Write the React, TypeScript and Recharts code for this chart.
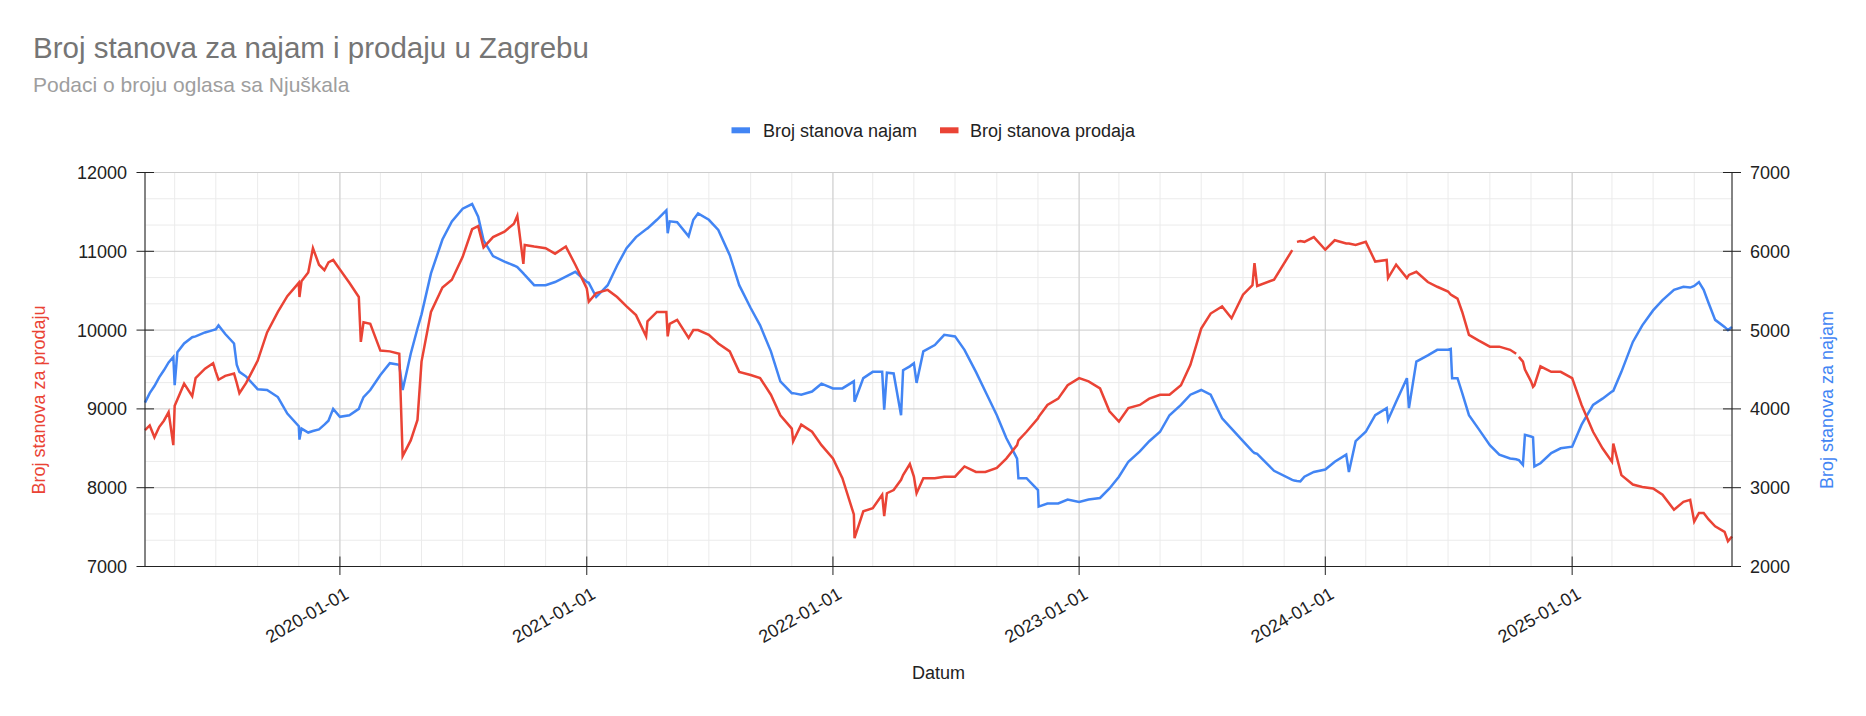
import { LineChart, Line, XAxis, YAxis, CartesianGrid } from 'recharts';

const dates2019 = [
  '2019-03-18', '2019-03-25', '2019-04-01', '2019-04-08', '2019-04-15', '2019-04-22', '2019-04-29',
  '2019-05-01', '2019-05-05', '2019-05-15', '2019-05-27', '2019-06-01', '2019-06-15', '2019-06-27',
  '2019-07-01', '2019-07-05', '2019-07-15', '2019-07-28', '2019-08-01', '2019-08-05', '2019-08-15',
  '2019-09-01', '2019-09-15', '2019-10-01', '2019-10-15', '2019-11-01', '2019-11-02', '2019-11-05',
  '2019-11-15', '2019-11-22', '2019-12-01', '2019-12-09', '2019-12-15', '2019-12-22',
];
const najam2019 = [
  4080, 4200, 4290, 4400, 4490, 4590, 4660,
  4300, 4720, 4830, 4910, 4920, 4970, 5000,
  5010, 5060, 4950, 4830, 4560, 4470, 4410,
  4250, 4240, 4150, 3940, 3780, 3610, 3750,
  3700, 3720, 3740, 3800, 3850, 4000,
];
const prodaja2019 = [
  8730, 8790, 8640, 8770, 8850, 8960, 8540,
  9040, 9120, 9320, 9160, 9390, 9510, 9580,
  9470, 9370, 9420, 9450, 9330, 9200, 9330,
  9610, 9970, 10230, 10430, 10600, 10420, 10620,
  10730, 11040, 10830, 10760, 10860, 10890,
];

const dates2020 = [
  '2020-01-01', '2020-01-15', '2020-01-29', '2020-02-01', '2020-02-05', '2020-02-15', '2020-03-01',
  '2020-03-15', '2020-03-29', '2020-04-03', '2020-04-15', '2020-04-25', '2020-05-01', '2020-05-15',
  '2020-06-01', '2020-06-15', '2020-07-01', '2020-07-15', '2020-07-24', '2020-08-01', '2020-08-15',
  '2020-09-01', '2020-09-15', '2020-09-20', '2020-09-29', '2020-10-01', '2020-10-15', '2020-11-01',
  '2020-11-15', '2020-12-01', '2020-12-15',
];
const najam2020 = [
  3900, 3920, 4000, 4070, 4150, 4240, 4430,
  4580, 4560, 4240, 4700, 5020, 5200, 5720,
  6150, 6380, 6540, 6600, 6440, 6140, 5940,
  5870, 5820, 5800, 5720, 5700, 5570, 5570,
  5610, 5680, 5740,
];
const prodaja2020 = [
  10770, 10600, 10420, 9850, 10100, 10080, 9740,
  9730, 9700, 8400, 8600, 8860, 9600, 10230,
  10540, 10640, 10930, 11280, 11320, 11050, 11180,
  11250, 11350, 11450, 10840, 11080, 11060, 11040,
  10970, 11060, 10830,
];

const dates2021 = [
  '2021-01-01', '2021-01-04', '2021-01-15', '2021-02-01', '2021-02-15', '2021-03-01', '2021-03-15',
  '2021-03-30', '2021-04-01', '2021-04-15', '2021-04-29', '2021-05-01', '2021-05-04', '2021-05-15',
  '2021-06-01', '2021-06-08', '2021-06-15', '2021-07-01', '2021-07-15', '2021-08-01', '2021-08-15',
  '2021-09-01', '2021-09-15', '2021-10-01', '2021-10-15', '2021-11-01', '2021-11-03', '2021-11-15',
  '2021-12-01', '2021-12-15',
];
const najam2021 = [
  5610, 5600, 5420, 5570, 5820, 6040, 6180,
  6280, 6290, 6400, 6520, 6230, 6380, 6370,
  6190, 6400, 6480, 6400, 6270, 5950, 5570,
  5280, 5060, 4730, 4350, 4200, 4200, 4180,
  4220, 4320,
];
const prodaja2021 = [
  10530, 10360, 10470, 10510, 10420, 10300, 10190,
  9920, 10110, 10230, 10230, 9920, 10080, 10130,
  9900, 10000, 10000, 9940, 9830, 9730, 9470,
  9430, 9390, 9180, 8920, 8750, 8590, 8800,
  8710, 8540,
];

const dates2022 = [
  '2022-01-01', '2022-01-15', '2022-02-01', '2022-02-02', '2022-02-15', '2022-03-01', '2022-03-15',
  '2022-03-18', '2022-03-22', '2022-04-01', '2022-04-12', '2022-04-15', '2022-04-25', '2022-05-01',
  '2022-05-05', '2022-05-15', '2022-06-01', '2022-06-15', '2022-07-01', '2022-07-15', '2022-08-01',
  '2022-08-15', '2022-09-01', '2022-09-15', '2022-10-01', '2022-10-03', '2022-10-15', '2022-11-01',
  '2022-11-02', '2022-11-15', '2022-12-01', '2022-12-15',
];
const najam2022 = [
  4260, 4260, 4350, 4090, 4390, 4470, 4470,
  3990, 4460, 4450, 3920, 4490, 4540, 4580,
  4330, 4730, 4810, 4940, 4920, 4750, 4470,
  4220, 3920, 3630, 3370, 3120, 3120, 2970,
  2760, 2800, 2800, 2850,
];
const prodaja2022 = [
  8370, 8120, 7660, 7360, 7700, 7740, 7910,
  7640, 7930, 7970, 8100, 8160, 8300, 8140,
  7930, 8120, 8120, 8140, 8140, 8270, 8200,
  8200, 8250, 8370, 8540, 8600, 8710, 8880,
  8900, 9050, 9130, 9300,
];

const dates2023 = [
  '2023-01-01', '2023-01-15', '2023-02-01', '2023-02-15', '2023-03-01', '2023-03-15', '2023-04-01',
  '2023-04-15', '2023-05-01', '2023-05-15', '2023-06-01', '2023-06-15', '2023-07-01', '2023-07-15',
  '2023-08-01', '2023-08-15', '2023-09-01', '2023-09-15', '2023-09-18', '2023-09-22', '2023-10-17',
  '2023-11-13', '2023-11-16', '2023-11-20', '2023-11-25', '2023-12-01', '2023-12-15',
];
const najam2023 = [
  2820, 2850, 2870, 2990, 3140, 3330, 3460,
  3590, 3710, 3920, 4050, 4180, 4240, 4180,
  3880, 3750, 3590, 3460, 3440, 3430, 3215,
  3100, 3090, 3085, 3080, 3140, 3200,
];
const prodaja2023 = [
  9390, 9350, 9260, 8970, 8840, 9010, 9050,
  9130, 9180, 9180, 9300, 9560, 10020, 10210,
  10300, 10150, 10450, 10570, 10850, 10560, 10640,
  11015, null, 11120, 11130, 11120, 11180,
];

const dates2024 = [
  '2024-01-01', '2024-01-15', '2024-02-01', '2024-02-05', '2024-02-15', '2024-03-01', '2024-03-15',
  '2024-04-01', '2024-04-03', '2024-04-15', '2024-05-01', '2024-05-04', '2024-05-15', '2024-06-01',
  '2024-06-15', '2024-07-01', '2024-07-05', '2024-07-07', '2024-07-15', '2024-07-22', '2024-08-01',
  '2024-08-15', '2024-09-01', '2024-09-15', '2024-10-01', '2024-10-10', '2024-10-12', '2024-10-14',
  '2024-10-20', '2024-10-23', '2024-11-01', '2024-11-04', '2024-11-06', '2024-11-15', '2024-12-01',
  '2024-12-15',
];
const najam2024 = [
  3230, 3330, 3420, 3200, 3590, 3710, 3920,
  4010, 3860, 4090, 4390, 4010, 4600, 4680,
  4750, 4750, 4760, 4390, 4390, 4200, 3920,
  3750, 3540, 3420, 3370, 3360, 3355, 3350,
  3290, 3670, 3650, 3640, 3270, 3310, 3440,
  3500,
];
const prodaja2024 = [
  11020, 11140, 11100, 11100, 11080, 11120, 10870,
  10890, 10660, 10830, 10660, 10700, 10740, 10610,
  10550, 10490, 10450, 10440, 10400, 10230, 9940,
  9870, 9790, 9790, 9750, 9700, null, 9660,
  9600, 9500, 9350, 9280, 9300, 9540, 9470,
  9470,
];

const dates2025 = [
  '2025-01-01', '2025-01-15', '2025-02-01', '2025-02-15', '2025-03-01', '2025-03-03', '2025-03-15',
  '2025-04-01', '2025-04-15', '2025-05-01', '2025-05-15', '2025-06-01', '2025-06-15', '2025-06-25',
  '2025-07-01', '2025-07-08', '2025-07-15', '2025-07-22', '2025-08-01', '2025-08-15', '2025-08-20',
  '2025-08-26',
];
const najam2025 = [
  3520, 3800, 4050, 4130, 4220, 4230, 4470,
  4850, 5060, 5250, 5380, 5510, 5550, 5540,
  5560, 5610, 5510, 5350, 5130, 5040, 5000,
  5040,
];
const prodaja2025 = [
  9390, 9050, 8710, 8500, 8330, 8560, 8160,
  8040, 8010, 7990, 7910, 7720, 7820, 7845,
  7570, 7680, 7680, 7600, 7510, 7440, 7320,
  7380,
];

const yearTicks = ['2020-01-01', '2021-01-01', '2022-01-01', '2023-01-01', '2024-01-01', '2025-01-01'];
const leftTicks = [7000, 8000, 9000, 10000, 11000, 12000];
const rightTicks = [2000, 3000, 4000, 5000, 6000, 7000];

const dates = [...dates2019, ...dates2020, ...dates2021, ...dates2022, ...dates2023, ...dates2024, ...dates2025];
const najam = [...najam2019, ...najam2020, ...najam2021, ...najam2022, ...najam2023, ...najam2024, ...najam2025];
const prodaja = [
  ...prodaja2019, ...prodaja2020, ...prodaja2021, ...prodaja2022, ...prodaja2023, ...prodaja2024, ...prodaja2025,
];

const data = dates.map((d, i) => ({ t: Date.parse(d), najam: najam[i], prodaja: prodaja[i] }));

const start = Date.parse(dates[0]);
const end = Date.parse(dates[dates.length - 1]);
const xTicks = yearTicks.map((d) => Date.parse(d));

// minor gridlines: every two months, and thirds between the major value ticks
const minorX: number[] = [];
for (let y = 2019; y <= 2025; y++) {
  for (const m of [0, 2, 4, 6, 8, 10]) {
    const t = Date.UTC(y, m, 1);
    if (t > start && t < end) minorX.push(t);
  }
}
const minorY: number[] = [];
leftTicks.slice(0, -1).forEach((v) => {
  minorY.push(v + 1000 / 3, v + 2000 / 3);
});

const W = 1866;
const H = 716;
const FONT = '"Liberation Sans", Arial, Helvetica, sans-serif';
const BLUE = '#4285F4';
const RED = '#EA4335';
const AXIS = '#222222';

function LeftTick({ x, y, payload }: any) {
  return (
    <g>
      <line x1={x - 8.5} x2={x + 9} y1={y} y2={y} stroke={AXIS} />
      <text x={x - 18} y={y + 6.5} textAnchor="end" fontSize={18} fill="#222">
        {payload.value}
      </text>
    </g>
  );
}

function RightTick({ x, y, payload }: any) {
  return (
    <g>
      <line x1={x - 9} x2={x + 9} y1={y} y2={y} stroke={AXIS} />
      <text x={x + 18} y={y + 6.5} textAnchor="start" fontSize={18} fill="#222">
        {payload.value}
      </text>
    </g>
  );
}

function DateTick({ x, y, payload }: any) {
  const label = new Date(payload.value).toISOString().slice(0, 10);
  const tx = x + 10;
  const ty = y + 31;
  return (
    <g>
      <line x1={x} x2={x} y1={y - 10} y2={y + 8.5} stroke={AXIS} />
      <text x={tx} y={ty} transform={`rotate(-30 ${tx} ${ty})`} textAnchor="end" fontSize={18} fill="#222">
        {label}
      </text>
    </g>
  );
}

export default function App() {
  return (
    <div style={{ position: 'absolute', left: 0, top: 0, width: W, height: H, background: '#fff', fontFamily: FONT }}>
      <LineChart width={W} height={H} data={data} margin={{ top: 172.5, right: 54, bottom: 89.5, left: 65 }}>
        <CartesianGrid
          yAxisId="left"
          horizontalValues={minorY}
          verticalValues={minorX}
          stroke="#ebebeb"
        />
        <CartesianGrid yAxisId="left" stroke="#cccccc" />
        <XAxis
          dataKey="t"
          type="number"
          scale="time"
          domain={[start, end]}
          ticks={xTicks}
          interval={0}
          height={60}
          tickSize={0}
          tickMargin={0}
          tickLine={false}
          axisLine={{ stroke: AXIS }}
          tick={<DateTick />}
        />
        <YAxis
          yAxisId="left"
          domain={[7000, 12000]}
          ticks={leftTicks}
          interval={0}
          width={80}
          tickSize={0}
          tickMargin={0}
          tickLine={false}
          axisLine={{ stroke: AXIS }}
          tick={<LeftTick />}
        />
        <YAxis
          yAxisId="right"
          orientation="right"
          domain={[2000, 7000]}
          ticks={rightTicks}
          interval={0}
          width={80}
          tickSize={0}
          tickMargin={0}
          tickLine={false}
          axisLine={{ stroke: AXIS }}
          tick={<RightTick />}
        />
        <Line
          yAxisId="right"
          type="linear"
          dataKey="najam"
          name="Broj stanova najam"
          stroke={BLUE}
          strokeWidth={2.5}
          dot={false}
          activeDot={false}
          connectNulls={false}
          isAnimationActive={false}
        />
        <Line
          yAxisId="left"
          type="linear"
          dataKey="prodaja"
          name="Broj stanova prodaja"
          stroke={RED}
          strokeWidth={2.5}
          dot={false}
          activeDot={false}
          connectNulls={false}
          isAnimationActive={false}
        />
      </LineChart>
      <svg
        width={W}
        height={H}
        style={{ position: 'absolute', left: 0, top: 0, pointerEvents: 'none' }}
        fontFamily={FONT}
      >
        <text x={33} y={58} fontSize={29.5} fill="#757575">
          Broj stanova za najam i prodaju u Zagrebu
        </text>
        <text x={33} y={92} fontSize={21} fill="#9e9e9e">
          Podaci o broju oglasa sa Njuškala
        </text>

        <rect x={731.5} y={127.3} width={18.5} height={6} fill={BLUE} />
        <text x={763} y={136.5} fontSize={18} fill="#222">
          Broj stanova najam
        </text>
        <rect x={940} y={127.3} width={18.5} height={6} fill={RED} />
        <text x={970} y={136.5} fontSize={18} fill="#222">
          Broj stanova prodaja
        </text>

        <text x={45} y={400} transform="rotate(-90 45 400)" textAnchor="middle" fontSize={18} fill={RED}>
          Broj stanova za prodaju
        </text>
        <text x={1833} y={400} transform="rotate(-90 1833 400)" textAnchor="middle" fontSize={18} fill={BLUE}>
          Broj stanova za najam
        </text>
        <text x={938.5} y={679} textAnchor="middle" fontSize={18} fill="#222">
          Datum
        </text>
      </svg>
    </div>
  );
}
